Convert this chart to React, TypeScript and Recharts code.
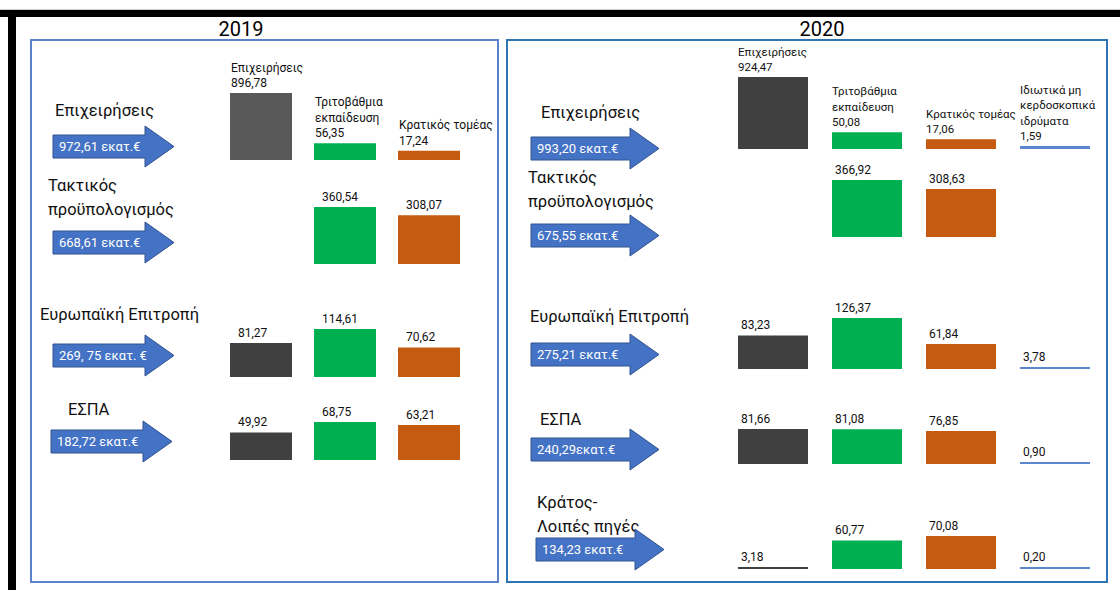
import React from "react";
import { BarChart, Bar, XAxis, YAxis, Cell, LabelList } from "recharts";

// Sectors that perform R&D (columns of bars)
const sectors = [
  ["Επιχειρήσεις"],
  ["Τριτοβάθμια", "εκπαίδευση"],
  ["Κρατικός τομέας"],
  ["Ιδιωτικά μη", "κερδοσκοπικά", "ιδρύματα"],
];
const sectorColors = ["#404040", "#00B050", "#C55A11", "#5B87D0"];

// 2019 – funding sources (rows) and where the money went (million €)
const sources2019 = [["Επιχειρήσεις"], ["Τακτικός", "προϋπολογισμός"], ["Ευρωπαϊκή Επιτροπή"], ["ΕΣΠΑ"]];
const totals2019 = ["972,61 εκατ.€", "668,61 εκατ.€", "269, 75 εκατ. €", "182,72 εκατ.€"];
const business2019 = [896.78, null, 81.27, 49.92];
const higherEd2019 = [56.35, 360.54, 114.61, 68.75];
const government2019 = [17.24, 308.07, 70.62, 63.21];

// 2020
const sources2020 = [
  ["Επιχειρήσεις"],
  ["Τακτικός", "προϋπολογισμός"],
  ["Ευρωπαϊκή Επιτροπή"],
  ["ΕΣΠΑ"],
  ["Κράτος-", "Λοιπές πηγές"],
];
const totals2020 = ["993,20 εκατ.€", "675,55 εκατ.€", "275,21 εκατ.€", "240,29εκατ.€", "134,23 εκατ.€"];
const business2020 = [924.47, null, 83.23, 81.66, 3.18];
const higherEd2020 = [50.08, 366.92, 126.37, 81.08, 60.77];
const government2020 = [17.06, 308.63, 61.84, 76.85, 70.08];
const nonProfit2020 = [1.59, null, 3.78, 0.9, 0.2];

const FONT = 'Roboto, "Noto Sans", sans-serif';

// page layout (pixels)
const layout2019 = {
  chartLeft: 219,
  band: 84,
  barSize: 62,
  labelDx: 8,
  nameDx: 1,
  nameFont: 12,
  rightRoom: 40,
  baselines: [160, 264, 377, 460],
  maxHeights: [67, 57, 48, 38],
  titleX: [55, 48, 40, 68],
  titleY: [111, 186, 315, 410],
  arrowX: [52, 52, 52, 50],
  arrowY: [146, 242, 355, 441],
  arrowLen: 123,
};
const layout2020 = {
  chartLeft: 726,
  band: 94,
  barSize: 70,
  labelDx: 3,
  nameDx: 0,
  nameFont: 11.5,
  rightRoom: 18,
  baselines: [149, 237, 369, 464, 569],
  maxHeights: [72, 57, 51, 35, 33],
  titleX: [541, 528, 530, 540, 537],
  titleY: [113, 178, 317, 420, 503],
  arrowX: [530, 530, 530, 530, 535],
  arrowY: [148, 235, 354, 449, 549],
  arrowLen: 130,
};

const fmt = (v: number) => v.toFixed(2).replace(".", ",");

function Arrow({ x, cy, len, text }: { x: number; cy: number; len: number; text: string }) {
  const hh = 43;
  const bh = 23;
  const hl = 30;
  const t = hh / 2 - bh / 2;
  const b = hh / 2 + bh / 2;
  const pts = `1,${t} ${len - hl},${t} ${len - hl},1 ${len - 1},${hh / 2} ${len - hl},${hh - 1} ${len - hl},${b} 1,${b}`;
  return (
    <svg width={len} height={hh} style={{ position: "absolute", left: x, top: cy - hh / 2 }}>
      <polygon points={pts} fill="#4472C4" stroke="#2F528F" strokeWidth={1} />
      <text x={7} y={hh / 2 + 4.5} fill="#fff" fontSize={13} fontFamily={FONT}>
        {text}
      </text>
    </svg>
  );
}

function Title({ x, y, lines }: { x: number; y: number; lines: string[] }) {
  return (
    <div
      style={{
        position: "absolute",
        left: x,
        top: y - 12,
        fontSize: 16.5,
        lineHeight: "24px",
        color: "#111",
        whiteSpace: "nowrap",
      }}
    >
      {lines.map((l, i) => (
        <div key={i}>{l}</div>
      ))}
    </div>
  );
}

function RowChart({
  values,
  left,
  band,
  barSize,
  baseline,
  plotHeight,
  withNames,
  labelDx,
  nameDx,
  nameFont,
  firstRow,
  rightRoom,
}: {
  values: (number | null)[];
  left: number;
  band: number;
  barSize: number;
  baseline: number;
  plotHeight: number;
  withNames: boolean;
  labelDx: number;
  nameDx: number;
  nameFont: number;
  firstRow: boolean;
  rightRoom: number;
}) {
  const data = values.map((v, i) => ({ cat: sectors[i].join(" "), idx: i, value: v }));
  const max = Math.max(...values.map((v) => (v == null ? 0 : v)));
  const marginTop = withNames ? 95 : 30;
  const width = band * values.length + rightRoom;
  const height = plotHeight + marginTop;
  const fontSize = withNames ? nameFont : 12;
  const dx = withNames ? nameDx : labelDx;

  const renderLabel = (props: any) => {
    const vb = props.viewBox || {};
    const x = props.x ?? vb.x;
    const y = props.y ?? vb.y;
    const idx = props.payload?.idx ?? props.index;
    const v = props.payload ? props.payload.value : typeof props.value === "number" ? props.value : null;
    if (v == null || x == null || y == null) return null;
    const lines = withNames ? [...sectors[idx], fmt(v)] : [fmt(v)];
    const lh = 15.5;
    const last = y - 6;
    return (
      <text key={`l-${idx}`} x={x + dx} y={last - (lines.length - 1) * lh} fontSize={fontSize} fill="#111" fontFamily={FONT}>
        {lines.map((l, i) => (
          <tspan key={i} x={x + dx} dy={i === 0 ? 0 : lh}>
            {l}
          </tspan>
        ))}
      </text>
    );
  };

  return (
    <div style={{ position: "absolute", left, top: baseline - height }}>
      <BarChart width={width} height={height} data={data} margin={{ top: marginTop, right: rightRoom, bottom: 0, left: 0 }}>
        <XAxis dataKey="cat" type="category" hide />
        <YAxis type="number" hide domain={[0, max]} allowDataOverflow scale={firstRow ? "sqrt" : "linear"} />
        <Bar
          dataKey="value"
          barSize={barSize}
          isAnimationActive={false}
          minPointSize={(v: any) => (v == null ? 0 : 2)}
        >
          {data.map((d, i) => (
            <Cell key={i} fill={firstRow && i === 0 && values.length === 3 ? "#595959" : sectorColors[i]} />
          ))}
          <LabelList dataKey="value" content={renderLabel} />
        </Bar>
      </BarChart>
    </div>
  );
}

function Panel({
  layout,
  sources,
  totals,
  columns,
}: {
  layout: typeof layout2019;
  sources: string[][];
  totals: string[];
  columns: (number | null)[][];
}) {
  return (
    <>
      {sources.map((s, r) => (
        <React.Fragment key={r}>
          <Title x={layout.titleX[r]} y={layout.titleY[r]} lines={s} />
          <Arrow x={layout.arrowX[r]} cy={layout.arrowY[r]} len={layout.arrowLen} text={totals[r]} />
          <RowChart
            values={columns.map((c) => c[r])}
            left={layout.chartLeft}
            band={layout.band}
            barSize={layout.barSize}
            baseline={layout.baselines[r]}
            plotHeight={layout.maxHeights[r]}
            withNames={r === 0}
            labelDx={layout.labelDx}
            nameDx={layout.nameDx}
            nameFont={layout.nameFont}
            firstRow={r === 0}
            rightRoom={layout.rightRoom}
          />
        </React.Fragment>
      ))}
    </>
  );
}

export default function App() {
  return (
    <div
      style={{
        position: "absolute",
        left: 0,
        top: 0,
        width: 1120,
        height: 590,
        background: "#fff",
        overflow: "hidden",
        fontFamily: FONT,
      }}
    >
      {/* frame */}
      <div style={{ position: "absolute", left: 0, top: 9, width: 1120, height: 1, background: "#cfcfcf" }} />
      <div style={{ position: "absolute", left: 0, top: 10, width: 1120, height: 7, background: "#000" }} />
      <div style={{ position: "absolute", left: 8, top: 10, width: 8, height: 580, background: "#000" }} />

      {/* panels */}
      <div
        style={{
          position: "absolute",
          left: 30,
          top: 39,
          width: 469,
          height: 544,
          border: "2px solid #5B80CC",
          boxSizing: "border-box",
        }}
      />
      <div
        style={{
          position: "absolute",
          left: 506,
          top: 39,
          width: 602,
          height: 544,
          border: "2px solid #2E75B6",
          boxSizing: "border-box",
        }}
      />
      <div style={{ position: "absolute", left: 241, top: 17, transform: "translateX(-50%)", fontSize: 20, lineHeight: "24px" }}>
        2019
      </div>
      <div style={{ position: "absolute", left: 822, top: 17, transform: "translateX(-50%)", fontSize: 20, lineHeight: "24px" }}>
        2020
      </div>

      <Panel
        layout={layout2019}
        sources={sources2019}
        totals={totals2019}
        columns={[business2019, higherEd2019, government2019]}
      />
      <Panel
        layout={layout2020}
        sources={sources2020}
        totals={totals2020}
        columns={[business2020, higherEd2020, government2020, nonProfit2020]}
      />
    </div>
  );
}
